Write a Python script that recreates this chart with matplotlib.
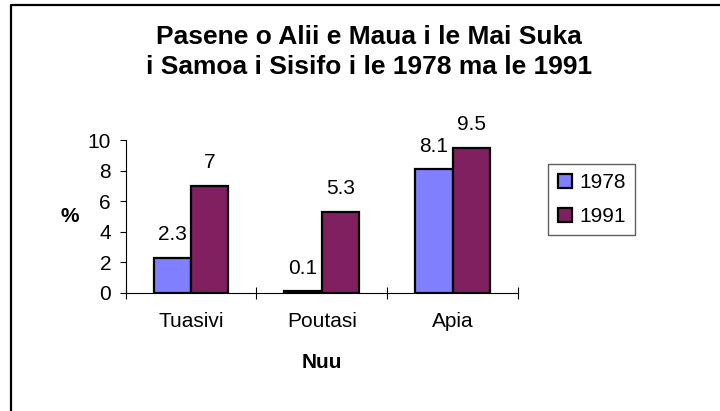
import numpy as np
import matplotlib.pyplot as plt
from matplotlib.lines import Line2D

plt.rcParams['font.family'] = ['Liberation Sans', 'DejaVu Sans']

# data
categories = ['Tuasivi', 'Poutasi', 'Apia']
years = ['1978', '1991']
vals_1978 = [2.3, 0.1, 8.1]
vals_1991 = [7, 5.3, 9.5]
colors = ['#8080FF', '#802060']

W, H = 720, 411
fig = plt.figure(figsize=(W / 100, H / 100), dpi=100)
ax = fig.add_axes([125.7 / W, 1 - 292.7 / H, (518 - 125.7) / W, (292.7 - 140) / H])

x = np.arange(len(categories))
w = 1 / 3.5
for i, (vals, c) in enumerate([(vals_1978, colors[0]), (vals_1991, colors[1])]):
    xs = x - w / 2 + i * w
    ax.bar(xs, vals, width=w, color=c, edgecolor='black', linewidth=1.6, label=years[i], zorder=3)
    for xx, v in zip(xs, vals):
        ax.annotate(f'{v:g}', (xx, v), xytext=(0, 16.5), textcoords='offset points',
                    ha='center', va='center', fontsize=15)

ax.set_xlim(-0.5, 2.5)
ax.set_ylim(0, 10)
ax.set_yticks(range(0, 11, 2))
ax.set_xticks([-0.5, 0.5, 1.5, 2.5])
ax.set_xticklabels([])
ax.set_xticks(x, minor=True)
ax.set_xticklabels(categories, minor=True, fontsize=15)
ax.tick_params(axis='x', which='major', direction='inout', length=8.5, width=0.8)
ax.tick_params(axis='x', which='minor', length=0, pad=14)
ax.tick_params(axis='y', direction='out', length=4.5, width=0.8, labelsize=15, pad=6)
for s in ['top', 'right']:
    ax.spines[s].set_visible(False)
for s in ['left', 'bottom']:
    ax.spines[s].set_linewidth(0.8)

fig.text(70 / W, 1 - 216.5 / H, '%', ha='center', va='center', fontsize=15, fontweight='bold')
fig.text(322 / W, 1 - 362.5 / H, 'Nuu', ha='center', va='center', fontsize=15, fontweight='bold')

fig.text(369 / W, 1 - 36.5 / H, 'Pasene o Alii e Maua i le Mai Suka', ha='center', va='center',
         fontsize=19, fontweight='bold')
fig.text(369 / W, 1 - 66.5 / H, 'i Samoa i Sisifo i le 1978 ma le 1991', ha='center', va='center',
         fontsize=19, fontweight='bold')

handles = [Line2D([], [], linestyle='none', marker='s', markersize=9.5, markerfacecolor=c,
                  markeredgecolor='black', markeredgewidth=1.6) for c in colors]
leg = fig.legend(handles, years, loc='upper left', bbox_to_anchor=(548 / W, 1 - 164 / H),
                 fontsize=15, frameon=True, fancybox=False, handlelength=0.7,
                 handletextpad=0.35, borderpad=0.45, labelspacing=0.7, borderaxespad=0)
leg.get_frame().set_edgecolor('#333333')
leg.get_frame().set_linewidth(1.0)

# outer frame (only top and left edges show)
fig.add_artist(Line2D([11 / W, 11 / W, 1], [0, 1 - 5.5 / H, 1 - 5.5 / H],
                      transform=fig.transFigure, color='black', linewidth=1.6))

plt.savefig('out.png', dpi=100)
